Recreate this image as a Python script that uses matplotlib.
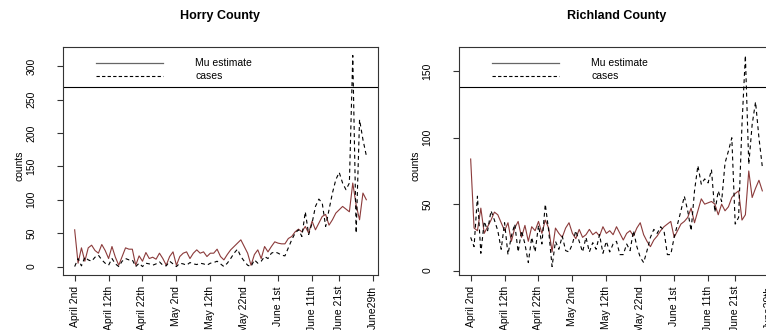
import matplotlib
matplotlib.use("Agg")
import matplotlib.pyplot as plt

plt.rcParams['font.family'] = ['Liberation Sans', 'DejaVu Sans']

tick_pos = [0, 10, 20, 30, 40, 50, 60, 70, 78, 88]
tick_labels = ['April 2nd', 'April 12th', 'April 22th', 'May 2nd', 'May 12th',
               'May 22nd', 'June 1st', 'June 11th', 'June 21st', 'June29th']

horry_mu = [55, 5, 28, 8, 28, 32, 24, 20, 33, 24, 12, 30, 14, 2, 15, 28, 26, 26, 2, 16,
            8, 21, 12, 14, 11, 20, 12, 2, 15, 22, 2, 15, 20, 22, 12, 20, 25, 20, 22, 15,
            20, 20, 26, 15, 10, 18, 25, 30, 35, 40, 30, 20, 2, 18, 25, 12, 30, 22, 30, 37,
            35, 34, 34, 42, 45, 52, 56, 52, 60, 50, 68, 55, 65, 75, 78, 62, 70, 80, 85, 90,
            86, 82, 125, 92, 70, 110, 100]
horry_cases = [0, 12, 1, 14, 10, 8, 14, 17, 10, 5, 2, 12, 4, 0, 8, 12, 10, 10, 0, 5,
               0, 5, 4, 2, 4, 7, 2, 1, 8, 4, 0, 5, 4, 2, 6, 4, 3, 5, 4, 2,
               5, 6, 8, 4, 0, 5, 12, 20, 26, 15, 8, 2, 0, 10, 5, 8, 15, 12, 20, 22,
               20, 17, 16, 28, 40, 50, 55, 45, 82, 48, 65, 90, 101, 95, 60, 85, 110, 130, 141, 125,
               115, 125, 316, 50, 220, 190, 166]

rich_mu = [84, 32, 30, 47, 28, 33, 38, 44, 42, 36, 30, 36, 22, 32, 37, 25, 34, 22, 33, 30,
           37, 28, 38, 32, 14, 32, 28, 25, 32, 36, 28, 24, 31, 25, 27, 31, 27, 29, 26, 33,
           28, 30, 27, 33, 28, 23, 28, 30, 26, 32, 36, 27, 22, 18, 23, 26, 30, 33, 35, 37,
           25, 30, 35, 37, 40, 47, 36, 45, 54, 50, 51, 52, 50, 42, 50, 45, 48, 55, 58, 60,
           38, 42, 75, 55, 62, 68, 60]
rich_cases = [25, 18, 56, 13, 37, 30, 45, 38, 30, 16, 36, 12, 26, 35, 14, 30, 20, 6, 25, 14,
              34, 20, 50, 30, 3, 22, 16, 26, 15, 14, 20, 30, 22, 14, 25, 14, 21, 16, 27, 13,
              22, 14, 20, 22, 12, 12, 20, 15, 30, 18, 10, 6, 15, 25, 31, 28, 33, 30, 12, 12,
              25, 35, 45, 56, 45, 30, 60, 79, 65, 69, 66, 76, 44, 60, 52, 81, 90, 100, 35, 40,
              110, 162, 80, 110, 127, 100, 78]

W, H = 766, 330
fig = plt.figure(figsize=(W / 100, H / 100), dpi=100)

mu_color = '#8b3a3a'
fs = 7.5


def panel(left_px, title, mu, cases, yticks, legend_y):
    top_px, bot_px, wpx = 47, 275, 315
    ax = fig.add_axes([left_px / W, (H - bot_px) / H, wpx / W, (bot_px - top_px) / H])
    days = list(range(len(mu)))
    ax.plot(days, mu, color=mu_color, lw=0.8)
    ax.plot(days, cases, color='black', lw=0.8, ls=(0, (3.5, 3)))
    n = len(mu) - 1
    ax.set_xlim(-0.04 * n, n * 1.04)
    allv = mu + cases
    lo, hi = min(allv), max(allv)
    r = hi - lo
    ax.set_ylim(lo - 0.04 * r, hi + 0.04 * r)
    ax.axhline(legend_y, color='black', lw=0.8)
    ax.plot([0.105, 0.318], [0.93, 0.93], transform=ax.transAxes, color='#666666', lw=0.9)
    ax.plot([0.105, 0.318], [0.872, 0.872], transform=ax.transAxes, color='black', lw=0.8,
            ls=(0, (3, 2)))
    ax.text(0.42, 0.93, 'Mu estimate', transform=ax.transAxes, fontsize=fs, va='center')
    ax.text(0.42, 0.872, 'cases', transform=ax.transAxes, fontsize=fs, va='center')
    ax.set_xticks(tick_pos)
    ax.set_xticklabels(tick_labels, rotation=90, fontsize=fs, va='top')
    ax.set_yticks(yticks)
    ax.set_yticklabels([str(v) for v in yticks], rotation=90, fontsize=fs, va='center')
    ax.tick_params(axis='x', length=4, pad=4, color='#333333')
    ax.tick_params(axis='y', length=4, pad=15, color='#333333')
    for s in ax.spines.values():
        s.set_color('#333333')
        s.set_linewidth(0.8)
    ax.set_ylabel('counts', fontsize=fs)
    ax.yaxis.set_label_coords(-0.122, 0.48)
    ax.set_title(title, fontsize=9, fontweight='bold', pad=20)
    return ax


panel(63, 'Horry County', horry_mu, horry_cases, [0, 50, 100, 150, 200, 250, 300], 269)
panel(459, 'Richland County', rich_mu, rich_cases, [0, 50, 100, 150], 138.6)

fig.savefig('out.png', dpi=100)
